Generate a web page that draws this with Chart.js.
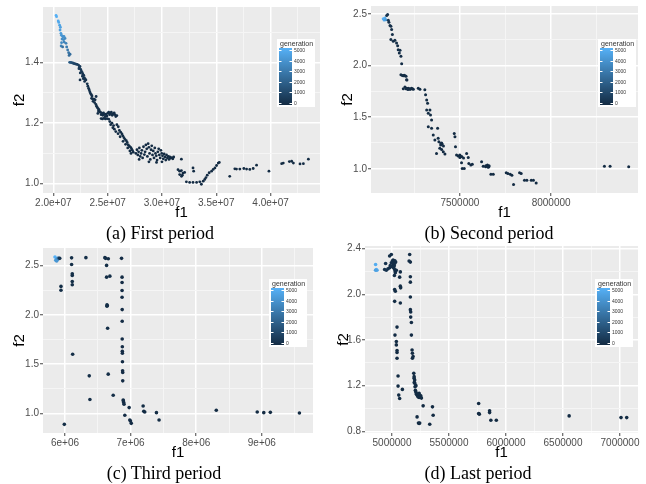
<!DOCTYPE html>
<html>
<head>
<meta charset="utf-8">
<script src="https://cdn.jsdelivr.net/npm/chart.js@4.4.1/dist/chart.umd.min.js"></script>
<style>
  body { margin: 0; background: #fff; width: 646px; height: 484px; position: relative; overflow: hidden; }
  .panel { position: absolute; width: 323px; height: 240px; }
  .caption { position: absolute; font-family: "Liberation Serif", "Times New Roman", serif; font-size: 18px; color: #000;
             white-space: nowrap; transform: translate(-50%, -50%); }
</style>
</head>
<body>
<div class="panel" style="left:0;top:0"><canvas id="first" width="323" height="240"></canvas></div>
<div class="panel" style="left:323px;top:0"><canvas id="second" width="323" height="240"></canvas></div>
<div class="panel" style="left:0;top:240px"><canvas id="third" width="323" height="240"></canvas></div>
<div class="panel" style="left:323px;top:240px"><canvas id="last" width="323" height="240"></canvas></div>
<div class="caption" style="left:160px;top:233px">(a) First period</div>
<div class="caption" style="left:489px;top:233px">(b) Second period</div>
<div class="caption" style="left:164px;top:473px">(c) Third period</div>
<div class="caption" style="left:478px;top:473px">(d) Last period</div>
<script>
// [f1, f2, generation]
const firstPeriod = [
  [2.025e7,1.556,5000],[2.030e7,1.552,4900],[2.045e7,1.538,4700],[2.050e7,1.533,4650],[2.058e7,1.524,4500],
  [2.065e7,1.517,4400],[2.062e7,1.508,4300],[2.070e7,1.497,4200],[2.074e7,1.491,4100],[2.083e7,1.488,4000],
  [2.090e7,1.485,3900],[2.098e7,1.487,3800],[2.080e7,1.478,3700],[2.095e7,1.476,3600],[2.108e7,1.480,3500],
  [2.076e7,1.466,3500],[2.100e7,1.468,3300],[2.117e7,1.464,3200],[2.072e7,1.455,3300],[2.123e7,1.452,3000],
  [2.132e7,1.442,2900],[2.141e7,1.433,2700],[2.086e7,1.452,2600],[2.154e7,1.428,2500],[2.145e7,1.424,2400],
  [2.150e7,1.401,1900],[2.158e7,1.401,1700],[2.166e7,1.400,1500],[2.175e7,1.399,1400],[2.184e7,1.398,1200],
  [2.192e7,1.397,1100],[2.200e7,1.396,1000],[2.210e7,1.395,900],[2.220e7,1.394,800],[2.232e7,1.392,700],
  [2.240e7,1.385,650],[2.245e7,1.388,600],[2.236e7,1.380,560],[2.252e7,1.378,520],[2.258e7,1.372,500],
  [2.248e7,1.366,480],[2.265e7,1.368,450],[2.272e7,1.362,420],[2.268e7,1.355,400],[2.280e7,1.358,380],
  [2.285e7,1.350,360],[2.276e7,1.347,340],[2.292e7,1.346,320],[2.300e7,1.343,300],[2.288e7,1.338,300],
  [2.246e7,1.343,300],[2.312e7,1.330,280],[2.318e7,1.322,260],[2.325e7,1.315,250],[2.330e7,1.310,240],
  [2.336e7,1.304,230],[2.342e7,1.298,220],[2.350e7,1.294,210],[2.356e7,1.290,200],[2.394e7,1.288,200],
  [2.352e7,1.282,190],[2.362e7,1.280,180],[2.375e7,1.279,170],[2.385e7,1.277,160],[2.366e7,1.272,160],
  [2.380e7,1.268,150],[2.392e7,1.262,150],[2.398e7,1.256,140],[2.405e7,1.252,140],[2.412e7,1.248,130],
  [2.420e7,1.245,130],[2.415e7,1.240,120],[2.428e7,1.238,120],[2.434e7,1.236,110],[2.410e7,1.232,110],
  [2.440e7,1.228,100],[2.448e7,1.232,100],[2.455e7,1.226,100],[2.462e7,1.234,90],[2.470e7,1.229,90],
  [2.478e7,1.222,90],[2.486e7,1.230,80],[2.494e7,1.224,80],[2.502e7,1.233,80],[2.510e7,1.236,70],
  [2.518e7,1.228,70],[2.526e7,1.232,70],[2.534e7,1.236,60],[2.542e7,1.226,60],[2.550e7,1.230,60],
  [2.560e7,1.234,50],[2.568e7,1.228,50],[2.575e7,1.222,50],[2.585e7,1.225,50],[2.440e7,1.215,90],
  [2.452e7,1.214,90],[2.466e7,1.216,80],[2.480e7,1.214,80],[2.495e7,1.215,70],[2.510e7,1.213,70],
  [2.520e7,1.205,60],[2.540e7,1.200,60],[2.528e7,1.195,60],[2.555e7,1.192,50],[2.548e7,1.185,50],
  [2.562e7,1.180,50],[2.585e7,1.195,40],[2.598e7,1.188,40],[2.575e7,1.172,40],[2.608e7,1.176,40],
  [2.620e7,1.170,40],[2.596e7,1.165,30],[2.632e7,1.164,30],[2.640e7,1.158,30],[2.615e7,1.155,30],
  [2.650e7,1.152,30],[2.660e7,1.146,30],[2.642e7,1.140,30],[2.672e7,1.142,20],[2.680e7,1.136,20],
  [2.665e7,1.130,20],[2.690e7,1.128,20],[2.700e7,1.124,20],[2.685e7,1.118,20],[2.712e7,1.120,20],
  [2.720e7,1.115,20],[2.705e7,1.108,20],[2.728e7,1.110,20],[2.736e7,1.104,20],[2.715e7,1.100,20],
  [2.760e7,1.100,10],[2.770e7,1.112,10],[2.778e7,1.095,10],[2.785e7,1.105,10],[2.792e7,1.118,10],
  [2.800e7,1.090,10],[2.808e7,1.100,10],[2.815e7,1.110,10],[2.822e7,1.085,10],[2.830e7,1.122,10],
  [2.838e7,1.096,10],[2.845e7,1.105,10],[2.852e7,1.128,10],[2.860e7,1.115,10],[2.866e7,1.090,10],
  [2.873e7,1.132,10],[2.880e7,1.120,10],[2.886e7,1.100,10],[2.893e7,1.080,10],[2.900e7,1.112,10],
  [2.906e7,1.125,10],[2.913e7,1.095,10],[2.920e7,1.108,10],[2.927e7,1.085,10],[2.934e7,1.118,10],
  [2.940e7,1.100,10],[2.948e7,1.092,10],[2.955e7,1.078,10],[2.962e7,1.105,10],[2.970e7,1.115,10],
  [2.976e7,1.095,10],[2.984e7,1.085,10],[2.990e7,1.110,10],[2.998e7,1.100,10],[3.005e7,1.092,10],
  [3.012e7,1.082,10],[3.020e7,1.098,10],[3.028e7,1.088,10],[3.035e7,1.078,10],[3.042e7,1.095,10],
  [3.050e7,1.085,10],[3.058e7,1.090,10],[3.065e7,1.080,10],[3.072e7,1.088,10],[3.080e7,1.084,10],
  [3.090e7,1.086,10],[3.100e7,1.082,10],[3.108e7,1.088,10],[2.790e7,1.080,10],[2.880e7,1.072,10],
  [2.950e7,1.070,10],[3.000e7,1.072,10],
  [3.179e7,1.081,0],[3.148e7,1.046,0],[3.163e7,1.041,0],[3.179e7,1.043,0],[3.193e7,1.035,0],
  [3.163e7,1.030,0],[3.180e7,1.024,0],[3.209e7,1.037,0],[3.188e7,1.028,0],[3.286e7,1.052,0],
  [3.292e7,1.041,0],[3.225e7,1.006,0],[3.255e7,1.004,0],[3.286e7,1.004,0],[3.319e7,1.004,0],
  [3.348e7,1.006,0],[3.363e7,0.998,0],[3.380e7,1.008,0],[3.394e7,1.014,0],[3.405e7,1.020,0],
  [3.417e7,1.028,0],[3.435e7,1.036,0],[3.457e7,1.041,0],[3.472e7,1.047,0],[3.488e7,1.052,0],
  [3.503e7,1.060,0],[3.518e7,1.068,0],[3.528e7,1.070,0],[3.624e7,1.024,0],[3.671e7,1.049,0],
  [3.686e7,1.048,0],[3.717e7,1.048,0],[3.754e7,1.050,0],[3.779e7,1.048,0],[3.809e7,1.047,0],
  [3.840e7,1.050,0],[3.871e7,1.061,0],[3.985e7,1.041,0],[4.102e7,1.066,0],[4.117e7,1.068,0],
  [4.173e7,1.073,0],[4.194e7,1.074,0],[4.210e7,1.068,0],[4.271e7,1.065,0],[4.302e7,1.066,0],
  [4.348e7,1.081,0]
];

const secondPeriod = [
  [7.080e6,2.452,5000],[7.089e6,2.461,4800],[7.085e6,2.440,4600],[7.094e6,2.442,4200],
  [7.099e6,2.484,300],[7.104e6,2.494,300],[7.108e6,2.439,300],[7.111e6,2.419,200],[7.117e6,2.387,200],
  [7.122e6,2.380,200],[7.126e6,2.348,200],[7.130e6,2.299,150],[7.122e6,2.251,150],[7.135e6,2.234,150],
  [7.144e6,2.244,100],[7.153e6,2.218,100],[7.159e6,2.192,100],[7.162e6,2.153,100],[7.172e6,2.147,100],
  [7.168e6,2.121,80],[7.177e6,2.089,80],[7.181e6,2.017,80],[7.177e6,1.910,60],[7.190e6,1.901,60],
  [7.199e6,1.901,60],[7.195e6,1.905,60],[7.185e6,1.903,60],[7.205e6,1.895,60],[7.208e6,1.862,50],
  [7.210e6,1.860,50],[7.199e6,1.791,50],[7.208e6,1.781,50],[7.217e6,1.781,50],[7.226e6,1.771,40],
  [7.235e6,1.781,40],[7.245e6,1.771,40],[7.190e6,1.775,40],[7.205e6,1.776,40],[7.215e6,1.768,40],
  [7.222e6,1.775,40],[7.230e6,1.772,40],[7.240e6,1.776,40],[7.272e6,1.781,30],[7.281e6,1.771,30],
  [7.308e6,1.765,30],[7.312e6,1.716,30],[7.318e6,1.667,30],[7.323e6,1.635,30],[7.318e6,1.570,20],
  [7.327e6,1.538,20],[7.336e6,1.570,20],[7.339e6,1.522,20],[7.345e6,1.473,20],[7.327e6,1.408,20],
  [7.345e6,1.392,20],[7.378e6,1.392,20],[7.354e6,1.327,20],[7.363e6,1.279,20],[7.381e6,1.295,20],
  [7.385e6,1.262,10],[7.396e6,1.246,10],[7.403e6,1.240,10],[7.400e6,1.250,10],[7.395e6,1.230,10],
  [7.410e6,1.220,10],[7.390e6,1.198,10],[7.400e6,1.188,10],[7.409e6,1.165,10],[7.418e6,1.143,10],
  [7.372e6,1.149,10],[7.469e6,1.343,10],[7.473e6,1.311,10],[7.476e6,1.214,10],[7.482e6,1.133,10],
  [7.491e6,1.123,10],[7.500e6,1.133,10],[7.505e6,1.117,10],[7.500e6,1.110,10],[7.510e6,1.120,10],
  [7.520e6,1.105,10],[7.509e6,1.058,10],[7.513e6,1.003,10],[7.524e6,1.003,10],[7.537e6,1.149,10],
  [7.546e6,1.110,10],[7.549e6,1.052,10],[7.560e6,1.036,10],[7.568e6,1.045,10],[7.619e6,1.068,0],
  [7.628e6,1.026,0],[7.641e6,1.019,0],[7.642e6,1.030,0],[7.651e6,1.036,0],[7.655e6,1.015,0],
  [7.659e6,1.019,0],[7.660e6,1.030,0],[7.670e6,0.948,0],[7.683e6,0.948,0],[7.754e6,0.961,0],
  [7.763e6,0.955,0],[7.776e6,0.948,0],[7.785e6,0.938,0],[7.794e6,0.848,0],[7.827e6,0.961,0],
  [7.836e6,0.955,0],[7.854e6,0.890,0],[7.867e6,0.890,0],[7.891e6,0.890,0],[7.903e6,0.890,0],
  [7.918e6,0.864,0],[8.292e6,1.026,0],[8.323e6,1.026,0],[8.425e6,1.019,0]
];

const thirdPeriod = [
  [5.848e6,2.588,5000],[5.873e6,2.571,4500],[5.860e6,2.555,4200],[5.885e6,2.560,3800],[5.873e6,2.548,4000],
  [5.900e6,2.578,2500],[5.920e6,2.575,300],
  [6.101e6,2.580,100],[6.101e6,2.513,100],[6.111e6,2.418,100],[6.111e6,2.400,100],[6.111e6,2.340,100],
  [6.111e6,2.306,100],[5.939e6,2.290,100],[5.939e6,2.250,100],[6.117e6,1.600,100],[6.319e6,2.582,100],
  [6.608e6,2.582,100],[6.620e6,2.575,100],[6.660e6,2.571,100],[6.634e6,2.503,100],[6.634e6,2.384,100],
  [6.684e6,2.394,100],[6.640e6,2.102,100],[6.645e6,2.095,100],[6.640e6,2.088,100],[6.650e6,1.864,100],
  [6.659e6,1.398,100],[6.370e6,1.381,100],[6.380e6,1.140,100],[6.735e6,1.184,100],[5.990e6,0.888,100],
  [6.862e6,2.575,50],[6.870e6,2.384,50],[6.870e6,2.330,50],[6.870e6,2.248,50],[6.870e6,2.180,50],
  [6.872e6,2.054,50],[6.872e6,1.935,50],[6.872e6,1.755,50],[6.874e6,1.677,50],[6.874e6,1.630,50],
  [6.875e6,1.610,50],[6.876e6,1.524,50],[6.878e6,1.432,50],[6.880e6,1.415,50],[6.880e6,1.330,50],
  [6.887e6,1.136,50],[6.890e6,1.126,50],[6.895e6,1.109,50],[6.900e6,1.092,50],[6.912e6,0.980,50],
  [6.978e6,1.058,50],[6.988e6,0.932,50],[6.998e6,0.922,50],[7.010e6,0.898,50],[7.191e6,1.075,20],
  [7.201e6,1.020,20],[7.216e6,1.014,20],[7.394e6,1.007,20],[7.434e6,0.932,20],[8.306e6,1.031,0],
  [8.930e6,1.014,0],[9.030e6,1.007,0],[9.130e6,1.010,0],[9.573e6,1.003,0]
];

const lastPeriod = [
  [4.856e6,2.262,4800],[4.862e6,2.218,5000],[4.868e6,2.212,4600],[4.856e6,2.212,4400],
  [4.944e6,2.271,300],[4.965e6,2.224,300],[4.935e6,2.218,300],[4.950e6,2.212,300],[4.979e6,2.233,200],
  [4.985e6,2.253,200],[4.994e6,2.277,200],[5.003e6,2.292,200],[5.009e6,2.300,200],[5.018e6,2.292,150],
  [5.023e6,2.271,150],[5.032e6,2.283,150],[5.009e6,2.247,150],[5.015e6,2.233,150],[5.023e6,2.218,150],
  [5.029e6,2.203,100],[5.038e6,2.212,100],[5.029e6,2.189,100],[5.021e6,2.165,100],[4.979e6,2.336,100],
  [4.994e6,2.350,100],[5.010e6,2.260,100],[5.012e6,2.280,100],[5.020e6,2.250,100],[5.005e6,2.240,100],
  [5.025e6,2.295,100],[5.155e6,2.350,80],[5.150e6,2.292,80],[5.161e6,2.283,80],[5.073e6,2.197,80],
  [5.067e6,2.151,80],[5.161e6,2.154,80],[5.161e6,2.107,80],[5.023e6,2.042,60],[5.029e6,2.027,60],
  [5.073e6,2.072,60],[5.076e6,2.057,60],[5.023e6,1.939,60],[5.073e6,1.924,60],[5.161e6,1.977,60],
  [5.161e6,1.866,50],[5.164e6,1.845,50],[5.164e6,1.801,50],[5.170e6,1.754,50],[5.044e6,1.713,50],
  [5.026e6,1.643,50],[5.170e6,1.643,50],[5.038e6,1.587,40],[5.038e6,1.557,40],[5.044e6,1.508,40],
  [5.044e6,1.490,40],[5.044e6,1.440,40],[5.176e6,1.513,40],[5.179e6,1.484,40],[5.185e6,1.455,40],
  [5.179e6,1.440,40],[5.053e6,1.284,30],[5.053e6,1.196,30],[5.059e6,1.117,30],[5.067e6,1.088,30],
  [5.091e6,1.167,30],[5.191e6,1.308,30],[5.194e6,1.279,30],[5.194e6,1.264,30],[5.199e6,1.249,30],
  [5.199e6,1.220,20],[5.196e6,1.230,20],[5.202e6,1.190,20],[5.210e6,1.200,20],[5.205e6,1.160,20],
  [5.208e6,1.146,20],[5.214e6,1.132,20],[5.220e6,1.117,20],[5.215e6,1.125,20],[5.225e6,1.110,20],
  [5.232e6,1.115,20],[5.229e6,1.102,20],[5.238e6,1.097,20],[5.244e6,1.100,20],[5.249e6,1.108,20],
  [5.252e6,1.112,20],[5.258e6,1.091,20],[5.238e6,1.132,20],[5.273e6,1.023,10],[5.220e6,0.926,10],
  [5.232e6,0.873,10],[5.238e6,0.868,10],[5.243e6,0.873,10],[5.331e6,0.862,10],[5.355e6,1.014,10],
  [5.361e6,0.941,10],[5.760e6,1.044,0],[5.760e6,0.956,0],[5.766e6,0.950,0],[5.856e6,0.979,0],
  [5.856e6,0.964,0],[5.867e6,0.897,0],[5.915e6,0.897,0],[6.554e6,0.935,0],[7.009e6,0.920,0],
  [7.059e6,0.920,0]
];

// axis limits and breaks
const firstX = [1.905e7, 4.455e7], firstY = [0.969, 1.584];
const firstXTicks = [2.0e7, 2.5e7, 3.0e7, 3.5e7, 4.0e7];
const firstXLabels = ['2.0e+07', '2.5e+07', '3.0e+07', '3.5e+07', '4.0e+07'];
const firstYTicks = [1.0, 1.2, 1.4];
const firstYLabels = ['1.0', '1.2', '1.4'];

const secondX = [7.013e6, 8.476e6], secondY = [0.766, 2.576];
const secondXTicks = [7.5e6, 8.0e6];
const secondXLabels = ['7500000', '8000000'];
const secondYTicks = [1.0, 1.5, 2.0, 2.5];
const secondYLabels = ['1.0', '1.5', '2.0', '2.5'];

const thirdX = [5.665e6, 9.78e6], thirdY = [0.80, 2.68];
const thirdXTicks = [6e6, 7e6, 8e6, 9e6];
const thirdXLabels = ['6e+06', '7e+06', '8e+06', '9e+06'];
const thirdYTicks = [1.0, 1.5, 2.0, 2.5];
const thirdYLabels = ['1.0', '1.5', '2.0', '2.5'];

const lastX = [4.763e6, 7.158e6], lastY = [0.785, 2.424];
const lastXTicks = [5.0e6, 5.5e6, 6.0e6, 6.5e6, 7.0e6];
const lastXLabels = ['5000000', '5500000', '6000000', '6500000', '7000000'];
const lastYTicks = [0.8, 1.2, 1.6, 2.0, 2.4];
const lastYLabels = ['0.8', '1.2', '1.6', '2.0', '2.4'];

const genBreaks = [0, 1000, 2000, 3000, 4000, 5000];
const genLow = [19, 43, 67], genHigh = [86, 177, 247];
const genMax = 5000;

function genColour(g) {
  const t = Math.max(0, Math.min(1, g / genMax));
  const c = genLow.map((v, i) => Math.round(v + (genHigh[i] - v) * t));
  return `rgb(${c[0]},${c[1]},${c[2]})`;
}

// grey panel behind the grid
const panelBg = {
  id: 'panelBg',
  beforeDraw(chart) {
    const { ctx, chartArea: a } = chart;
    ctx.save();
    ctx.fillStyle = '#ebebeb';
    ctx.fillRect(a.left, a.top, a.right - a.left, a.bottom - a.top);
    ctx.restore();
  }
};

// continuous colour key for generation
const colourBar = {
  id: 'colourBar',
  afterDraw(chart, args, opts) {
    const ctx = chart.ctx;
    const x = opts.x, y = opts.y;
    ctx.save();
    ctx.fillStyle = '#fff';
    ctx.fillRect(x, y, 38, 68);
    ctx.fillStyle = '#333';
    ctx.font = '7px "Liberation Sans", Arial, sans-serif';
    ctx.textBaseline = 'middle';
    ctx.fillText('generation', x + 3, y + 5);
    const bx = x + 2, by = y + 9, bw = 13, bh = 57;
    const grad = ctx.createLinearGradient(0, by, 0, by + bh);
    grad.addColorStop(0, genColour(genMax));
    grad.addColorStop(1, genColour(0));
    ctx.fillStyle = grad;
    ctx.fillRect(bx, by, bw, bh);
    ctx.font = '5px "Liberation Sans", Arial, sans-serif';
    genBreaks.forEach(v => {
      const ty = Math.round(by + bh - 2 - (v / genMax) * (bh - 4)) + 0.5;
      ctx.strokeStyle = '#fff';
      ctx.lineWidth = 1;
      ctx.beginPath();
      ctx.moveTo(bx, ty); ctx.lineTo(bx + 2.5, ty);
      ctx.moveTo(bx + bw - 2.5, ty); ctx.lineTo(bx + bw, ty);
      ctx.stroke();
      ctx.fillStyle = '#333';
      ctx.fillText(String(v), bx + bw + 2, ty);
    });
    ctx.restore();
  }
};

function withMinor(major, min, max) {
  const half = (major[1] - major[0]) / 2;
  const out = [];
  major.forEach((v, i) => {
    if (i === 0 && v - half >= min) out.push({ value: v - half, minor: true });
    if (v >= min && v <= max) out.push({ value: v, minor: false });
    if (v + half <= max) out.push({ value: v + half, minor: true });
  });
  return out;
}

function makeAxis(range, major, labels, title, horizontal, p) {
  return {
    type: 'linear',
    bounds: 'data',
    min: range[0],
    max: range[1],
    afterBuildTicks: axis => { axis.ticks = withMinor(major, range[0], range[1]); },
    afterFit: axis => {
      if (horizontal) axis.height = 30; else axis.width = p.yW;
      axis.paddingLeft = axis.paddingRight = axis.paddingTop = axis.paddingBottom = 0;
    },
    border: { display: false },
    grid: {
      color: c => (c.tick && c.tick.minor) ? '#f5f5f5' : '#ffffff',
      lineWidth: c => (c.tick && c.tick.minor) ? 1 : 1.5,
      tickColor: c => (c.tick && c.tick.minor) ? 'rgba(0,0,0,0)' : '#444',
      tickLength: 3,
      tickWidth: 1
    },
    ticks: {
      autoSkip: false,
      maxRotation: 0,
      minRotation: 0,
      padding: 1,
      color: '#4d4d4d',
      font: { family: '"Liberation Sans", Arial, sans-serif', size: 10 },
      callback: (value, index, ticks) => {
        if (ticks[index].minor) return '';
        const k = major.findIndex(m => Math.abs(m - value) <= Math.abs(m) * 1e-9);
        return k < 0 ? '' : labels[k];
      }
    },
    title: {
      display: true,
      text: title,
      color: '#000',
      font: { family: '"Liberation Sans", Arial, sans-serif', size: 15 },
      padding: horizontal ? { top: 0, bottom: 1 } : { top: p.yTitle, bottom: 0 }
    }
  };
}

function drawPanel(id, pts, xr, yr, xt, xl, yt, yl, p) {
  new Chart(document.getElementById(id), {
    type: 'scatter',
    data: {
      datasets: [{
        data: pts.map(d => ({ x: d[0], y: d[1] })),
        backgroundColor: pts.map(d => genColour(d[2])),
        borderWidth: 0,
        pointRadius: p.r,
        pointHoverRadius: p.r
      }]
    },
    options: {
      responsive: false,
      animation: false,
      events: [],
      layout: { padding: { left: 0, top: p.top, right: p.right, bottom: 17 } },
      plugins: {
        legend: { display: false },
        tooltip: { enabled: false },
        colourBar: { x: p.keyX, y: p.keyY }
      },
      scales: {
        x: makeAxis(xr, xt, xl, 'f1', true, p),
        y: makeAxis(yr, yt, yl, 'f2', false, p)
      }
    },
    plugins: [panelBg, colourBar]
  });
}

drawPanel('first', firstPeriod, firstX, firstY, firstXTicks, firstXLabels, firstYTicks, firstYLabels,
  { yW: 43, top: 7, right: 3, yTitle: 11, keyX: 277, keyY: 39, r: 1.4 });
drawPanel('second', secondPeriod, secondX, secondY, secondXTicks, secondXLabels, secondYTicks, secondYLabels,
  { yW: 48, top: 6, right: 8, yTitle: 16, keyX: 275, keyY: 39, r: 1.5 });
drawPanel('third', thirdPeriod, thirdX, thirdY, thirdXTicks, thirdXLabels, thirdYTicks, thirdYLabels,
  { yW: 43, top: 8, right: 10, yTitle: 11, keyX: 269, keyY: 39, r: 1.8 });
drawPanel('last', lastPeriod, lastX, lastY, lastXTicks, lastXLabels, lastYTicks, lastYLabels,
  { yW: 42, top: 6, right: 8, yTitle: 12, keyX: 272, keyY: 39, r: 1.8 });
</script>
</body>
</html>
